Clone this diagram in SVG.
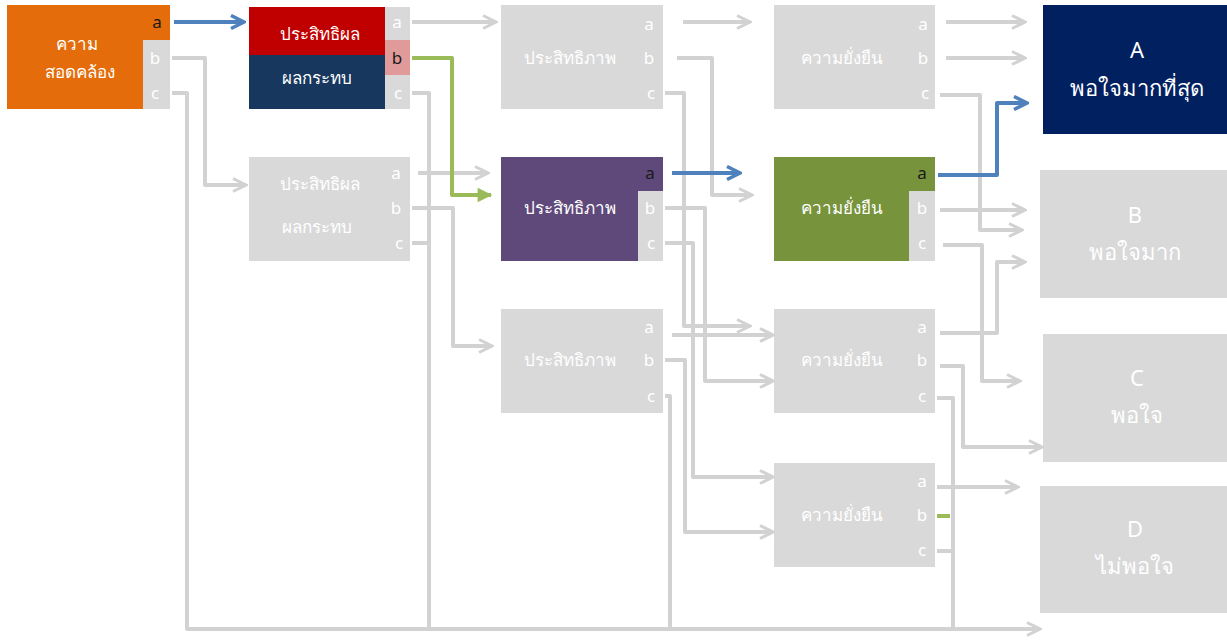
<svg xmlns="http://www.w3.org/2000/svg" width="1227" height="641" viewBox="0 0 1227 641">
<defs>
<style>
.t{font-family:"Noto Sans","DejaVu Sans",sans-serif;fill:#fff;text-anchor:middle}
.th{font-size:17px}
.lb{font-size:17px}
.dk{fill:#1a1a1a}
.g{fill:#D9D9D9}
.gl{fill:none;stroke:#D2D2D2;stroke-width:4;stroke-linejoin:round}
.bl{fill:none;stroke:#4F81BD;stroke-width:4;stroke-linejoin:round}
.gr{fill:none;stroke:#9BBB59;stroke-width:4;stroke-linejoin:round}
.big{font-size:22px}
</style>
<marker id="ag" viewBox="0 0 16 16" markerWidth="16" markerHeight="16" refX="14" refY="8" orient="auto" markerUnits="userSpaceOnUse">
<path d="M1,1.5 L14,8 L1,14.5" fill="none" stroke="#D2D2D2" stroke-width="3"/>
</marker>
<marker id="ab" viewBox="0 0 16 16" markerWidth="16" markerHeight="16" refX="14" refY="8" orient="auto" markerUnits="userSpaceOnUse">
<path d="M1,1.5 L14,8 L1,14.5" fill="none" stroke="#4F81BD" stroke-width="3.5"/>
</marker>
<marker id="agr" viewBox="0 0 14 14" markerWidth="17" markerHeight="17" refX="12" refY="7" orient="auto" markerUnits="userSpaceOnUse">
<path d="M1,1 L13,7 L1,13 Z" fill="#9BBB59"/>
</marker>
</defs>
<rect width="1227" height="641" fill="#fff"/>

<g id="n1">
<rect x="7" y="5" width="163" height="104" fill="#E46C0A"/>
<rect x="143" y="40" width="27" height="69" class="g"/>
<text x="77" y="50" class="t th">ความ</text>
<text x="80" y="78" class="t th">สอดคล้อง</text>
<text x="157" y="28" class="t lb dk">a</text>
<text x="155" y="64" class="t lb">b</text>
<text x="155" y="99" class="t lb">c</text>
</g>

<g id="n2">
<rect x="249" y="7" width="136" height="48" fill="#C00000"/>
<rect x="249" y="55" width="136" height="54" fill="#17375E"/>
<rect x="385" y="7" width="25" height="102" class="g"/>
<rect x="385" y="40" width="25" height="35" fill="#E09A9A"/>
<text x="320" y="40" class="t th">ประสิทธิผล</text>
<text x="317" y="84" class="t th">ผลกระทบ</text>
<text x="397" y="28" class="t lb">a</text>
<text x="397" y="64" class="t lb dk">b</text>
<text x="398" y="99" class="t lb">c</text>
</g>

<g id="n3">
<rect x="249" y="157" width="161" height="104" class="g"/>
<text x="320" y="190" class="t th">ประสิทธิผล</text>
<text x="317" y="233" class="t th">ผลกระทบ</text>
<text x="396" y="179" class="t lb">a</text>
<text x="396" y="214" class="t lb">b</text>
<text x="399" y="249" class="t lb">c</text>
</g>

<g id="n4">
<rect x="501" y="5" width="162" height="104" class="g"/>
<text x="570" y="64" class="t th">ประสิทธิภาพ</text>
<text x="649" y="30" class="t lb">a</text>
<text x="649" y="64" class="t lb">b</text>
<text x="651" y="99" class="t lb">c</text>
</g>

<g id="n5">
<rect x="501" y="157" width="162" height="104" fill="#5F497A"/>
<rect x="638" y="191" width="25" height="70" class="g"/>
<text x="570" y="214" class="t th">ประสิทธิภาพ</text>
<text x="650" y="179" class="t lb dk">a</text>
<text x="650" y="214" class="t lb">b</text>
<text x="651" y="249" class="t lb">c</text>
</g>

<g id="n6">
<rect x="501" y="309" width="162" height="104" class="g"/>
<text x="570" y="366" class="t th">ประสิทธิภาพ</text>
<text x="649" y="333" class="t lb">a</text>
<text x="649" y="366" class="t lb">b</text>
<text x="651" y="402" class="t lb">c</text>
</g>

<g id="n7">
<rect x="774" y="5" width="161" height="104" class="g"/>
<text x="842" y="64" class="t th">ความยั่งยืน</text>
<text x="923" y="30" class="t lb">a</text>
<text x="923" y="64" class="t lb">b</text>
<text x="925" y="99" class="t lb">c</text>
</g>

<g id="n8">
<rect x="774" y="157" width="161" height="104" fill="#77933C"/>
<rect x="909" y="191" width="26" height="70" class="g"/>
<text x="842" y="214" class="t th">ความยั่งยืน</text>
<text x="922" y="179" class="t lb dk">a</text>
<text x="922" y="214" class="t lb">b</text>
<text x="922" y="249" class="t lb">c</text>
</g>

<g id="n9">
<rect x="774" y="309" width="161" height="104" class="g"/>
<text x="842" y="366" class="t th">ความยั่งยืน</text>
<text x="922" y="333" class="t lb">a</text>
<text x="922" y="366" class="t lb">b</text>
<text x="922" y="402" class="t lb">c</text>
</g>

<g id="n10">
<rect x="774" y="463" width="161" height="104" class="g"/>
<text x="842" y="521" class="t th">ความยั่งยืน</text>
<text x="922" y="487" class="t lb">a</text>
<text x="922" y="521" class="t lb">b</text>
<text x="922" y="556" class="t lb">c</text>
</g>

<g id="rA">
<rect x="1043" y="5" width="184" height="129" fill="#002060"/>
<text x="1137" y="58" class="t big">A</text>
<text x="1137" y="96" class="t big">พอใจมากที่สุด</text>
</g>
<g id="rB">
<rect x="1040" y="170" width="187" height="128" class="g"/>
<text x="1135" y="223" class="t big">B</text>
<text x="1135" y="260" class="t big">พอใจมาก</text>
</g>
<g id="rC">
<rect x="1043" y="334" width="184" height="128" class="g"/>
<text x="1137" y="386" class="t big">C</text>
<text x="1137" y="423" class="t big">พอใจ</text>
</g>
<g id="rD">
<rect x="1040" y="486" width="187" height="127" class="g"/>
<text x="1135" y="537" class="t big">D</text>
<text x="1135" y="574" class="t big">ไม่พอใจ</text>
</g>

<g id="connectors">
<path class="gl" d="M172,58 H205 V185 H246" marker-end="url(#ag)"/>
<path class="gl" d="M172,93 H187 V629 H1040" marker-end="url(#ag)"/>
<path class="gl" d="M412,22 H496" marker-end="url(#ag)"/>
<path class="gl" d="M412,93 H429 V629"/>
<path class="gl" d="M418,173 H488" marker-end="url(#ag)"/>
<path class="gl" d="M412,208 H453 V346 H492" marker-end="url(#ag)"/>
<path class="gl" d="M412,243 H430"/>
<path class="gl" d="M683,22 H750" marker-end="url(#ag)"/>
<path class="gl" d="M677,58 H712 V195 H752" marker-end="url(#ag)"/>
<path class="gl" d="M665,93 H684 V326 H750" marker-end="url(#ag)"/>
<path class="gl" d="M672,335 H773" marker-end="url(#ag)"/>
<path class="gl" d="M665,208 H705 V381 H773" marker-end="url(#ag)"/>
<path class="gl" d="M665,243 H693 V477 H773" marker-end="url(#ag)"/>
<path class="gl" d="M665,360 H685 V532 H773" marker-end="url(#ag)"/>
<path class="gl" d="M665,396 H670 V629"/>
<path class="gl" d="M946,22 H1025" marker-end="url(#ag)"/>
<path class="gl" d="M946,58 H1025" marker-end="url(#ag)"/>
<path class="gl" d="M940,95 H980 V230 H1022" marker-end="url(#ag)"/>
<path class="gl" d="M940,210 H1025" marker-end="url(#ag)"/>
<path class="gl" d="M943,245 H982 V381 H1020" marker-end="url(#ag)"/>
<path class="gl" d="M940,333 H997 V262 H1025" marker-end="url(#ag)"/>
<path class="gl" d="M940,366 H963 V447 H1042" marker-end="url(#ag)"/>
<path class="gl" d="M937,398 H953 V629"/>
<path class="gl" d="M937,487 H1018" marker-end="url(#ag)"/>
<path class="gl" d="M937,551 H953"/>
<path class="gr" d="M937,516 H950"/>
<path class="bl" d="M174,22 H244" marker-end="url(#ab)"/>
<path class="bl" d="M672,173 H740" marker-end="url(#ab)"/>
<path class="bl" d="M938,175 H997 V103 H1027" marker-end="url(#ab)"/>
<path class="gr" d="M412,58 H452 V195 H491" marker-end="url(#agr)"/>
</g>
</svg>
